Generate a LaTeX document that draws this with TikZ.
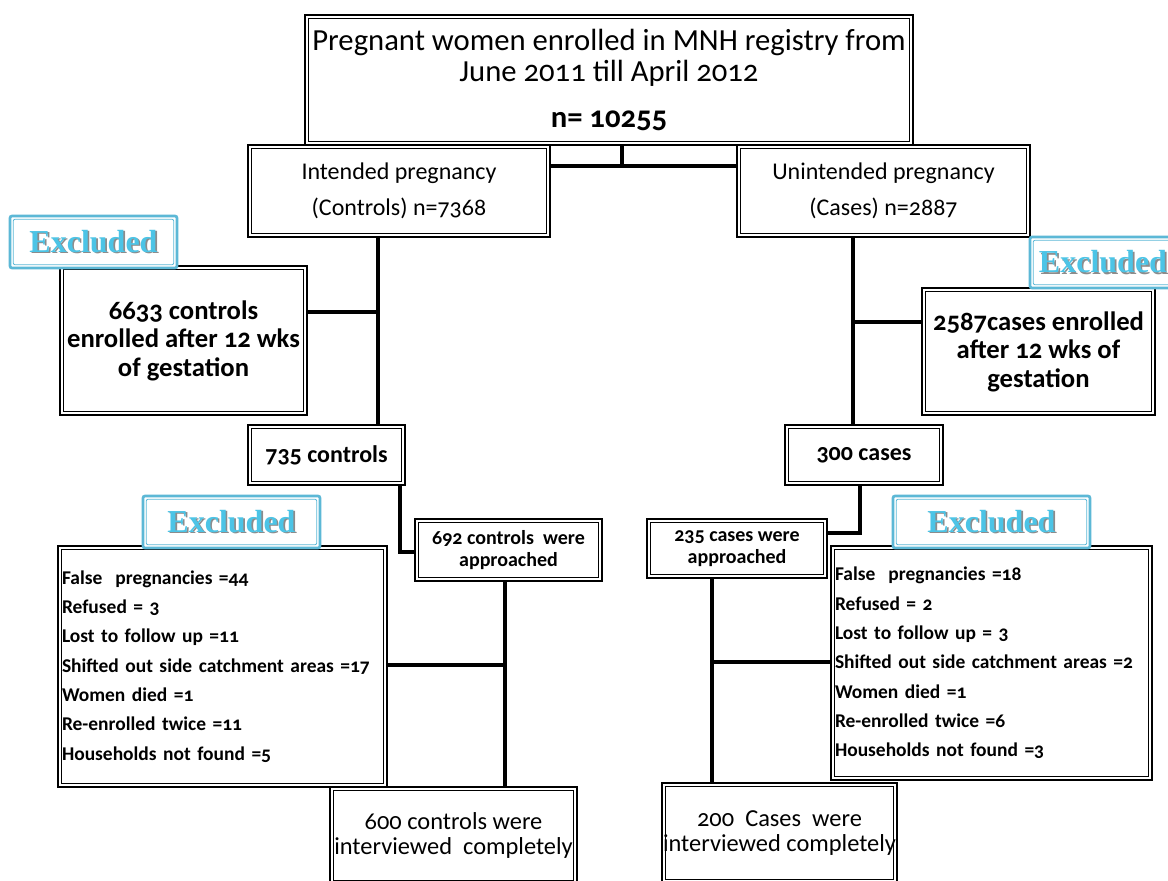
\documentclass[tikz,border=0pt]{standalone}
\usepackage{fontspec}
\setmainfont{Carlito}[Numbers=OldStyle]
\newfontfamily\exfont{Liberation Serif}
\definecolor{exblue}{HTML}{5CB8D6}
\definecolor{excyan}{HTML}{4CC4E6}
\newcommand\exword{\makebox[0pt][l]{\kern1.2pt\raisebox{-1.2pt}{\textcolor{black!45}{Excluded}}}\textcolor{excyan}{Excluded}}
\begin{document}
\begin{tikzpicture}[x=0.75pt,y=-0.75pt,
  box/.style={draw=black, line width=2.2pt, fill=white, inner sep=0pt, align=center,
    path picture={\draw[line width=0.6pt] ([shift={(2.6pt,-2.6pt)}]path picture bounding box.north west) rectangle ([shift={(-2.6pt,2.6pt)}]path picture bounding box.south east);}},
  exlabel/.style={draw=exblue, line width=2pt, rounded corners=1.5pt, fill=white, inner sep=0pt,
    font=\exfont\bfseries\fontsize{24}{26}\selectfont,
    path picture={\draw[exblue, line width=0.6pt] ([shift={(2.4pt,-2.4pt)}]path picture bounding box.north west) rectangle ([shift={(-2.4pt,2.4pt)}]path picture bounding box.south east);}},
  wh/.style 2 args={minimum width=#1*0.75pt, minimum height=#2*0.75pt},
  conn/.style={line width=2.3pt, line join=miter, black},
  ftop/.style={font=\fontsize{23}{23.5}\selectfont},
  fmid/.style={font=\fontsize{18}{21}\selectfont},
  fbig/.style={font=\bfseries\fontsize{20}{21.4}\selectfont},
  fcnt/.style={font=\bfseries\fontsize{18}{20}\selectfont},
  fsm/.style={font=\bfseries\fontsize{15}{16}\selectfont},
  flist/.style={font=\bfseries\fontsize{14.6}{22}\selectfont, align=left},
  fend/.style={font=\fontsize{18.3}{19}\selectfont}]
\clip (0,0) rectangle (1168,881);
\useasboundingbox (0,0) rectangle (1168,881);
\fill[white] (0,0) rectangle (1168,881);

% coordinates for connectors
\coordinate (j1) at (622,166);
\coordinate (vl) at (378,312);
\coordinate (vr) at (853,322);
\coordinate (k1) at (400,552);
\coordinate (k2) at (860,533);
\coordinate (m1) at (505,665);
\coordinate (m2) at (712,662);

% nodes
\node[box, wh={608}{130}, ftop] (top) at (609,80)
  {Pregnant women enrolled in MNH registry from\\June 2011 till April 2012\\[11pt]{\bfseries n= 10255}};
\node[box, wh={302}{92}, fmid] (intended) at (399,191) {Intended pregnancy\\[6pt](Controls) n=7368};
\node[box, wh={293}{92}, fmid] (unintended) at (883.5,191) {Unintended pregnancy\\[6pt](Cases) n=2887};

% connectors (drawn before boxes that sit on them)
\draw[conn] (j1 |- top.south) -- (j1);
\draw[conn] (intended.east |- j1) -- (unintended.west |- j1);
\draw[conn] (intended.south -| vl) -- (vl) -- +(0,113);
\draw[conn] (unintended.south -| vr) -- (vr) -- +(0,103);
\draw[conn] (k1) ++(0,-67) -- (k1) -- (415,552);
\draw[conn] (k2) ++(0,-48) -- (k2) -- (827,533);
\draw[conn] (505,581) -- (m1) -- (505,787);
\draw[conn] (712,578) -- (m2) -- (712,783);

\node[box, wh={247}{149}, fbig] (c6633) at (183.5,340.5) {6633 controls\\enrolled after 12 wks\\of gestation};
\node[box, wh={233}{127}, fbig] (c2587) at (1038.5,351.5) {2587cases enrolled\\after 12 wks of\\gestation};
\node[box, wh={157}{60}, fcnt] (c735) at (326.5,455) {735 controls};
\node[box, wh={158}{60}, fcnt] (c300) at (864,455) {300 cases};
\node[box, wh={187}{62}, fsm] (c692) at (508.5,550) {692 controls\ \ were\\approached};
\node[box, wh={180}{59}, fsm] (c235) at (737,548.5) {235 cases were\\approached};
\node[box, wh={329}{241}, flist, text width={329*0.75pt-6pt}, inner xsep=3pt] (listL) at (222.5,666.5)
  {False\ \ pregnancies =44\\Refused = 3\\Lost to follow up =11\\Shifted out side catchment areas =17\\Women died =1\\Re-enrolled twice =11\\Households not found =5};
\node[box, wh={321}{234}, flist, text width={321*0.75pt-6pt}, inner xsep=3pt] (listR) at (991.5,663)
  {False\ \ pregnancies =18\\Refused = 2\\Lost to follow up = 3\\Shifted out side catchment areas =2\\Women died =1\\Re-enrolled twice =6\\Households not found =3};
\node[box, wh={247}{97}, fend] (c600) at (453.5,835.5) {600 controls were\\interviewed\ \ completely};
\node[box, wh={235}{100}, fend] (c200) at (779.5,833) {200\ \ Cases\ \ were\\interviewed completely};

% branch connectors to exclusion boxes
\draw[conn] (c6633.east |- vl) -- (vl);
\draw[conn] (c2587.west |- vr) -- (vr);
\draw[conn] (listL.east |- m1) -- (m1);
\draw[conn] (listR.west |- m2) -- (m2);

% Excluded labels
\node[exlabel, wh={167}{52}] (ex1) at (93.5,242) {\exword};
\node[exlabel, wh={146}{51}] (ex2) at (1103,262.5) {\exword};
\node[exlabel, wh={177}{52}] (ex3) at (231.5,522) {\exword};
\node[exlabel, wh={197}{52}] (ex4) at (991.5,522) {\exword};
\end{tikzpicture}
\end{document}
